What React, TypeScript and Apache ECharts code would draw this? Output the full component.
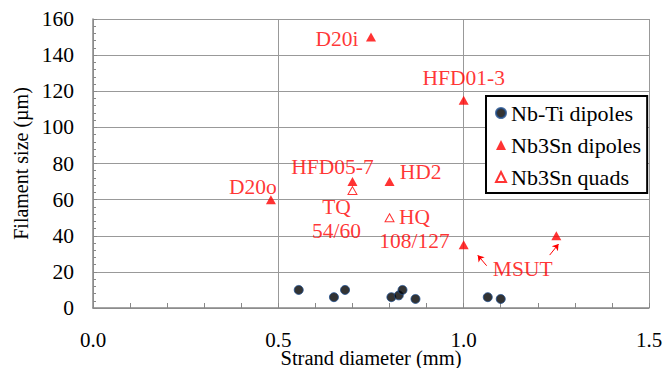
import React, { useEffect, useRef } from "react";
import * as echarts from "echarts";

// Nb-Ti dipoles
const nbTiDiameter = [0.555, 0.65, 0.68, 0.805, 0.825, 0.835, 0.87, 1.065, 1.1];
const nbTiFilament = [10, 6, 10, 6, 7, 10, 5, 6, 5];

// Nb3Sn dipoles
const dipoleDiameter = [0.48, 0.75, 0.7, 0.8, 1.0, 1.0, 1.25];
const dipoleFilament = [60, 150, 70, 70, 115, 35, 40];
const dipoleLabels = ["D20o", "D20i", "HFD05-7", "HD2", "HFD01-3", "MSUT", ""];

// Nb3Sn quads
const quadDiameter = [0.7, 0.8];
const quadFilament = [65, 50];
const quadLabels = ["TQ\n54/60", "HQ\n108/127"];

// Arrows pointing from the MSUT label to its two points: [from, to]
const msutArrows = [
  [[1.062, 23.4], [1.038, 29.2]],
  [[1.232, 29.3], [1.256, 35.4]],
];

const xTicks = { min: 0, max: 1.5, interval: 0.5 };
const yTicks = { min: 0, max: 160, interval: 20 };

// Pixel offsets of each annotation from its marker
const labelOffsets: Record<string, [number, number]> = {
  D20o: [-18, -13],
  D20i: [-34, 2],
  "HFD05-7": [-20, -15],
  HD2: [31, -10],
  "HFD01-3": [0, -22],
  MSUT: [59, 24],
  "TQ\n54/60": [-16, 28],
  "HQ\n108/127": [25, 11],
};

const FONT = "'Liberation Serif', 'Times New Roman', serif";
const RED = "#ff0000";

function pointData(xs: number[], ys: number[], labels?: string[]) {
  return xs.map((x, i) => {
    const text = labels ? labels[i] : "";
    const item: any = { value: [x, ys[i]] };
    if (text) {
      item.label = {
        show: true,
        formatter: text,
        position: "inside",
        offset: labelOffsets[text] || [0, 0],
      };
    }
    return item;
  });
}

export default function App() {
  const ref = useRef<HTMLDivElement>(null);

  useEffect(() => {
    if (!ref.current) return;
    const chart = echarts.init(ref.current, undefined, { renderer: "svg" });
    const labelStyle = {
      color: RED,
      fontFamily: FONT,
      fontSize: 21.5,
      lineHeight: 24,
      align: "center",
      verticalAlign: "middle",
    };
    chart.setOption({
      animation: false,
      backgroundColor: "#ffffff",
      textStyle: { fontFamily: FONT },
      grid: { left: 93, right: 14, top: 19, bottom: 60, outerBoundsMode: "none", containLabel: false },
      xAxis: {
        type: "value",
        ...xTicks,
        name: "Strand diameter (mm)",
        nameLocation: "middle",
        nameGap: 41,
        nameMoveOverlap: false,
        nameTextStyle: { fontFamily: FONT, fontSize: 20.5, lineHeight: 18, color: "#000" },
        axisLine: { show: true, lineStyle: { color: "#888", width: 1.5 } },
        axisTick: { show: true, inside: true, length: 5, lineStyle: { color: "#888" } },
        minorTick: { show: true, splitNumber: 5, length: 5, lineStyle: { color: "#888" } },
        axisLabel: {
          formatter: (v: number) => v.toFixed(1),
          fontFamily: FONT,
          fontSize: 21,
          lineHeight: 18,
          color: "#000",
          margin: 23,
        },
        splitLine: { show: true, lineStyle: { color: "#999", width: 1 } },
      },
      yAxis: {
        type: "value",
        ...yTicks,
        name: "Filament size (\u00b5m)",
        nameLocation: "middle",
        nameGap: 62,
        nameMoveOverlap: false,
        nameTextStyle: { fontFamily: FONT, fontSize: 20, color: "#000" },
        axisLine: { show: true, lineStyle: { color: "#888", width: 1.5 } },
        axisTick: { show: true, inside: true, length: 4, lineStyle: { color: "#888" } },
        minorTick: { show: true, splitNumber: 5, length: 3, lineStyle: { color: "#888" } },
        axisLabel: { fontFamily: FONT, fontSize: 21.5, color: "#000", margin: 19 },
        splitLine: { show: true, lineStyle: { color: "#999", width: 1 } },
      },
      legend: {
        orient: "vertical",
        left: 486,
        top: 96,
        padding: [6, 6, 5, 9],
        itemGap: 10,
        itemWidth: 10,
        itemHeight: 10,
        itemTextGap: 6,
        backgroundColor: "#ffffff",
        borderColor: "#000",
        borderWidth: 2,
        borderRadius: 0,
        textStyle: { fontFamily: FONT, fontSize: 22, color: "#000", lineHeight: 22 },
        data: [
          { name: "Nb-Ti dipoles", icon: "circle" },
          { name: "Nb3Sn dipoles", icon: "triangle" },
          { name: "Nb3Sn quads", icon: "triangle" },
        ],
      },
      series: [
        {
          name: "Nb-Ti dipoles",
          type: "scatter",
          symbol: "circle",
          symbolSize: 9,
          itemStyle: { color: "#000", borderColor: "#1f4e8c", borderWidth: 1 },
          data: pointData(nbTiDiameter, nbTiFilament),
          z: 3,
        },
        {
          name: "Nb3Sn dipoles",
          type: "scatter",
          symbol: "triangle",
          symbolSize: [10, 9],
          itemStyle: { color: RED },
          label: labelStyle,
          data: pointData(dipoleDiameter, dipoleFilament, dipoleLabels),
          z: 3,
        },
        {
          name: "Nb3Sn quads",
          type: "scatter",
          symbol: "triangle",
          symbolSize: [9, 8],
          itemStyle: { color: "#ffffff", borderColor: RED, borderWidth: 1 },
          label: labelStyle,
          data: pointData(quadDiameter, quadFilament, quadLabels),
          z: 3,
        },
        {
          type: "lines",
          coordinateSystem: "cartesian2d",
          symbol: ["none", "arrow"],
          symbolSize: 6,
          lineStyle: { color: RED, width: 1, opacity: 1 },
          data: msutArrows.map((c) => ({ coords: c })),
          z: 2,
        },
      ],
    });
    return () => chart.dispose();
  }, []);

  return (
    <div
      ref={ref}
      style={{ position: "fixed", left: 0, top: 0, width: 663, height: 368, background: "#fff" }}
    />
  );
}
